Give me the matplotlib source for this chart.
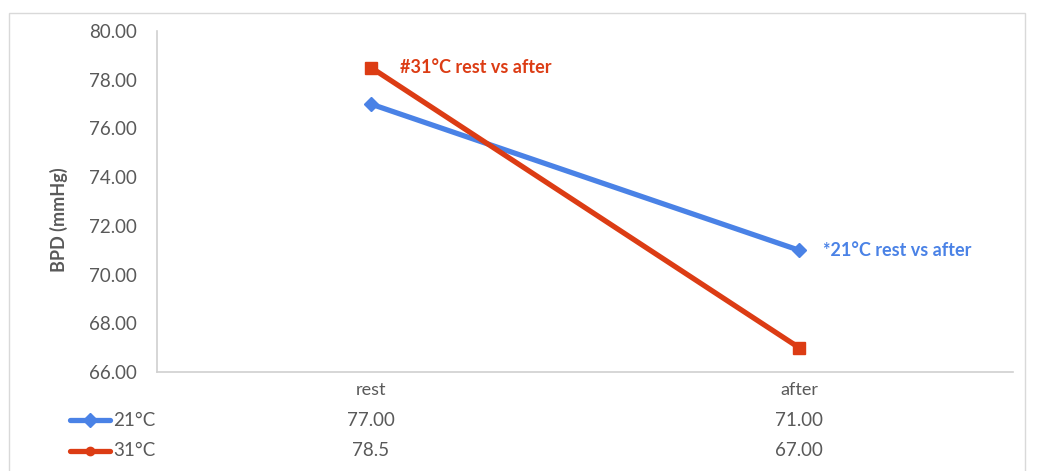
import matplotlib.pyplot as plt
from matplotlib.transforms import blended_transform_factory
from matplotlib.patches import Rectangle
from matplotlib.lines import Line2D

# data
cats = ['rest', 'after']
bpd_21 = [77.0, 71.0]
bpd_31 = [78.5, 67.0]
tbl_21 = ['77.00', '71.00']
tbl_31 = ['78.5', '67.00']
yticks = [66, 68, 70, 72, 74, 76, 78, 80]

blue = '#4a82e6'
red = '#dc3c14'
grey = '#595959'

plt.rcParams['font.family'] = ['Lato', 'DejaVu Sans']

W, H = 1040, 471
fig = plt.figure(figsize=(W / 100, H / 100), dpi=100)
ax = fig.add_axes([157 / W, 1 - 372 / H, (1013 - 157) / W, (372 - 31) / H])

x = list(range(len(cats)))
ax.plot(x, bpd_21, color=blue, lw=3.8, marker='D', ms=7, zorder=3)
ax.plot(x, bpd_31, color=red, lw=3.8, marker='s', ms=8, zorder=4)

ax.set_xlim(-0.5, len(cats) - 0.5)
ax.set_ylim(66, 80)
ax.set_yticks(yticks)
ax.set_yticklabels(['%.2f' % v for v in yticks], fontsize=13.5, color=grey)
ax.set_xticks(x)
ax.set_xticklabels(cats, fontsize=13, color=grey)
ax.tick_params(axis='both', length=0)
ax.tick_params(axis='y', pad=14.5)
ax.tick_params(axis='x', pad=7)
for s in ['top', 'right']:
    ax.spines[s].set_visible(False)
for s in ['left', 'bottom']:
    ax.spines[s].set_color('#d0d0d0')
    ax.spines[s].set_linewidth(1.2)

fig.text(59 / W, 1 - 220 / H, 'BPD (mmHg)', rotation=90, ha='center', va='center',
         fontsize=13, fontweight='bold', color=grey)

ax.annotate('#31°C rest vs after', xy=(0, bpd_31[0]), xytext=(29, 0),
            textcoords='offset pixels', ha='left', va='center',
            fontsize=13, fontweight='bold', color=red)
ax.annotate('*21°C rest vs after', xy=(1, bpd_21[1]), xytext=(24, 0),
            textcoords='offset pixels', ha='left', va='center',
            fontsize=13, fontweight='bold', color=blue)

# data table below the axis
tr = blended_transform_factory(ax.transData, fig.transFigure)
for row_y, vals in [(1 - 420 / H, tbl_21), (1 - 451 / H, tbl_31)]:
    for i, v in enumerate(vals):
        fig.text(i, row_y, v, transform=tr, ha='center', va='center',
                 fontsize=13.5, color=grey)

for row_y, col, mk, ms, lab in [(1 - 420 / H, blue, 'D', 7, '21°C'),
                                (1 - 451 / H, red, 'o', 6, '31°C')]:
    fig.add_artist(Line2D([70 / W, 110 / W], [row_y, row_y], color=col, lw=3.8,
                          solid_capstyle='round', transform=fig.transFigure))
    fig.add_artist(Line2D([90 / W], [row_y], color=col, marker=mk, ms=ms,
                          transform=fig.transFigure))
    fig.text(113 / W, row_y, lab, ha='left', va='center', fontsize=13.5, color=grey)

# chart border
fig.add_artist(Rectangle((9 / W, -0.01), (1025 - 9) / W, 1 - 13 / H + 0.01,
                         transform=fig.transFigure, fill=False,
                         edgecolor='#d9d9d9', lw=1))

fig.savefig('out.png', dpi=100)
